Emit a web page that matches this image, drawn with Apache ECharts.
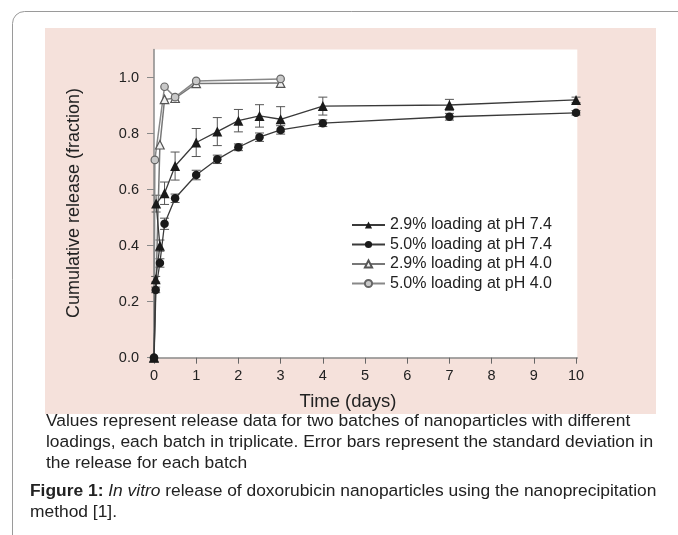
<!DOCTYPE html>
<html><head><meta charset="utf-8">
<script src="https://cdn.jsdelivr.net/npm/echarts@6/dist/echarts.min.js"></script>
<style>html,body{margin:0;padding:0;background:#fff}#c{width:678px;height:535px}</style>
</head><body><div id="c"></div>
<script>
// ---- data ----
const seriesNames = ['2.9% loading at pH 7.4', '5.0% loading at pH 7.4', '2.9% loading at pH 4.0', '5.0% loading at pH 4.0'];
const xTicks = [0, 1, 2, 3, 4, 5, 6, 7, 8, 9, 10];
const yTicks = [0, 0.2, 0.4, 0.6, 0.8, 1.0];

const t29_74 = [0, 0.04, 0.14, 0.05, 0.25, 0.5, 1, 1.5, 2, 2.5, 3, 4, 7, 10];
const v29_74 = [0, 0.28, 0.40, 0.55, 0.587, 0.684, 0.768, 0.807, 0.846, 0.863, 0.851, 0.898, 0.902, 0.92];
const e29_74 = [0, 0.01, 0.02, 0.03, 0.04, 0.05, 0.05, 0.05, 0.04, 0.04, 0.045, 0.032, 0.02, 0.01];

const t50_74 = [0, 0.04, 0.14, 0.25, 0.5, 1, 1.5, 2, 2.5, 3, 4, 7, 10];
const v50_74 = [0, 0.242, 0.338, 0.478, 0.569, 0.652, 0.708, 0.751, 0.787, 0.813, 0.837, 0.86, 0.874];
const e50_74 = [0, 0.01, 0.015, 0.02, 0.015, 0.017, 0.015, 0.012, 0.015, 0.015, 0.012, 0.012, 0.008];

const t29_40 = [0, 0.14, 0.25, 0.5, 1, 3];
const v29_40 = [0, 0.76, 0.922, 0.926, 0.979, 0.98];

const t50_40 = [0, 0.02, 0.25, 0.5, 1, 3];
const v50_40 = [0, 0.706, 0.967, 0.93, 0.988, 0.995];

const captionLines = [
  'Values represent release data for two batches of nanoparticles with different',
  'loadings, each batch in triplicate. Error bars represent the standard deviation in',
  'the release for each batch'
];

// ---- build ----
const FONT = '"Liberation Sans", Arial, sans-serif';
const zip = (t, v) => t.map((x, i) => [x, v[i]]);
const zip3 = (t, v, e) => t.map((x, i) => [x, v[i], e[i]]).filter(d => d[2] > 0);

function errRender(color) {
  return function (params, api) {
    const x = api.value(0), y = api.value(1), e = api.value(2);
    const a = api.coord([x, y + e]), b = api.coord([x, y - e]);
    const h = 4.5;
    const st = { stroke: color, lineWidth: 1 };
    return { type: 'group', children: [
      { type: 'line', shape: { x1: a[0], y1: a[1], x2: b[0], y2: b[1] }, style: st },
      { type: 'line', shape: { x1: a[0] - h, y1: a[1], x2: a[0] + h, y2: a[1] }, style: st },
      { type: 'line', shape: { x1: b[0] - h, y1: b[1], x2: b[0] + h, y2: b[1] }, style: st }
    ] };
  };
}

const chart = echarts.init(document.getElementById('c'), null, { renderer: 'canvas' });

const CAP = '17.4px ' + FONT;
const graphics = [
  { type: 'rect', z: -20, shape: { x: 12.5, y: 11.5, width: 720, height: 600, r: 12 }, style: { fill: 'none', stroke: '#9a9a9a', lineWidth: 1 } },
  { type: 'rect', z: -19, shape: { x: 45, y: 28, width: 611, height: 386 }, style: { fill: '#f5e1db' } },
  { type: 'rect', z: -18, shape: { x: 154, y: 49.5, width: 423.3, height: 308.2 }, style: { fill: '#ffffff' } },
  { type: 'text', x: 74, y: 203, rotation: Math.PI / 2, style: { text: 'Cumulative release (fraction)', font: '18px ' + FONT, fill: '#222', textAlign: 'center', textVerticalAlign: 'middle' } },
  { type: 'text', x: 348, y: 402, style: { text: 'Time (days)', font: '18.5px ' + FONT, fill: '#222', textAlign: 'center', textVerticalAlign: 'middle' } }
];
captionLines.forEach((s, i) => {
  graphics.push({ type: 'text', x: 46, y: 421 + i * 21, style: { text: s, font: CAP, fill: '#222', textAlign: 'left', textVerticalAlign: 'middle' } });
});
graphics.push({ type: 'text', x: 30, y: 491, style: {
  text: '{b|Figure 1:} {i|In vitro} release of doxorubicin nanoparticles using the nanoprecipitation',
  font: CAP, fill: '#222', textAlign: 'left', textVerticalAlign: 'middle',
  rich: { b: { fontWeight: 'bold', fontSize: 17.4, fontFamily: FONT, fill: '#222' }, i: { fontStyle: 'italic', fontSize: 17.4, fontFamily: FONT, fill: '#222' } }
} });
graphics.push({ type: 'text', x: 30, y: 512, style: { text: 'method [1].', font: CAP, fill: '#222', textAlign: 'left', textVerticalAlign: 'middle' } });

const option = {
  animation: false,
  backgroundColor: '#ffffff',
  graphic: { elements: graphics },
  grid: { left: 154, right: 100.7, top: 49.5, bottom: 177.3, containLabel: false },
  xAxis: {
    type: 'value', min: 0, max: 10.03,
    axisLine: { show: true, onZero: false, lineStyle: { color: '#8a8a8a', width: 1.5 } },
    axisTick: { show: true, inside: false, length: 6, customValues: xTicks, lineStyle: { color: '#666' } },
    axisLabel: { customValues: xTicks, margin: 11, fontSize: 14.5, fontFamily: FONT, color: '#222' },
    splitLine: { show: false }
  },
  yAxis: {
    type: 'value', min: 0, max: 1.1,
    axisLine: { show: true, onZero: false, lineStyle: { color: '#8a8a8a', width: 1.5 } },
    axisTick: { show: true, inside: false, length: 7, customValues: yTicks, lineStyle: { color: '#888' } },
    axisLabel: { customValues: yTicks, margin: 15, fontSize: 14.5, fontFamily: FONT, color: '#222', formatter: v => v.toFixed(1) },
    splitLine: { show: false }
  },
  legend: {
    orient: 'vertical', left: 346, top: 212,
    itemWidth: 33, itemHeight: 9, itemGap: 3.5,
    textStyle: { fontSize: 16, fontFamily: FONT, color: '#222' },
    data: seriesNames
  },
  series: [
    { type: 'custom', name: 'err1', renderItem: errRender('#555'), data: zip3(t29_74, v29_74, e29_74), z: 3, silent: true },
    { type: 'custom', name: 'err2', renderItem: errRender('#555'), data: zip3(t50_74, v50_74, e50_74), z: 3, silent: true },
    { type: 'line', name: seriesNames[0], data: zip(t29_74, v29_74), symbol: 'triangle', symbolSize: 10, showAllSymbol: true,
      lineStyle: { color: '#3a3a3a', width: 1.3 }, itemStyle: { color: '#1a1a1a', borderColor: '#1a1a1a', borderWidth: 0 }, z: 5 },
    { type: 'line', name: seriesNames[1], data: zip(t50_74, v50_74), symbol: 'circle', symbolSize: 8.5, showAllSymbol: true,
      lineStyle: { color: '#3a3a3a', width: 1.3 }, itemStyle: { color: '#1a1a1a', borderColor: '#1a1a1a', borderWidth: 0 }, z: 5 },
    { type: 'line', name: seriesNames[2], data: zip(t29_40, v29_40), symbol: 'triangle', symbolSize: 8.5, showAllSymbol: true,
      lineStyle: { color: '#777', width: 1.5 }, itemStyle: { color: '#f0f0f0', borderColor: '#555', borderWidth: 1.2 }, z: 4 },
    { type: 'line', name: seriesNames[3], data: zip(t50_40, v50_40), symbol: 'circle', symbolSize: 7.5, showAllSymbol: true,
      lineStyle: { color: '#888', width: 1.5 }, itemStyle: { color: '#c8c8c8', borderColor: '#666', borderWidth: 1.2 }, z: 4 }
  ]
};
chart.setOption(option);
</script>
</body></html>
